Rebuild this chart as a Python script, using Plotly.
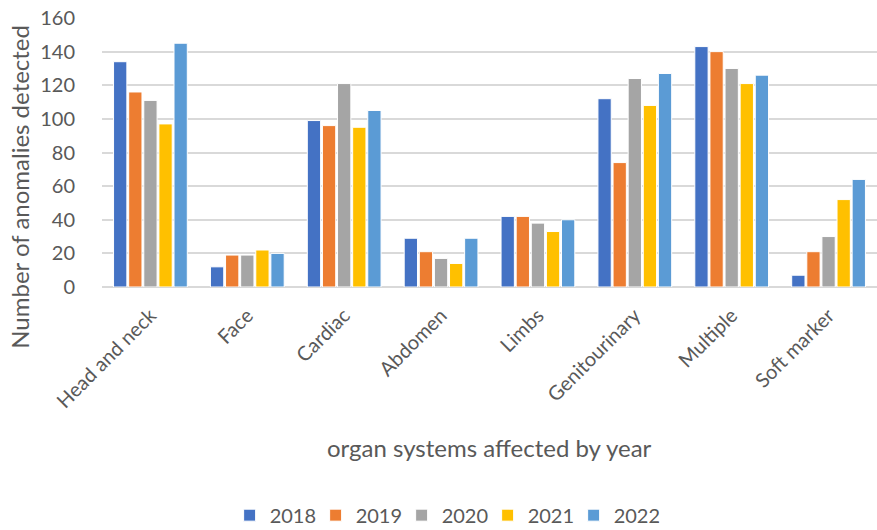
import plotly.graph_objects as go

categories = ["Head and neck", "Face", "Cardiac", "Abdomen", "Limbs", "Genitourinary", "Multiple", "Soft marker"]
years = ["2018", "2019", "2020", "2021", "2022"]
v2018 = [134, 12, 99, 29, 42, 112, 143, 7]
v2019 = [116, 19, 96, 21, 42, 74, 140, 21]
v2020 = [111, 19, 121, 17, 38, 124, 130, 30]
v2021 = [97, 22, 95, 14, 33, 108, 121, 52]
v2022 = [145, 20, 105, 29, 40, 127, 126, 64]
series = [v2018, v2019, v2020, v2021, v2022]
colors = ["#4472C4", "#ED7D31", "#A5A5A5", "#FFC000", "#5B9BD5"]

fig = go.Figure()
for y, vals, c in zip(years, series, colors):
    fig.add_trace(go.Bar(name=y, x=categories, y=vals, marker=dict(color=c, line=dict(color="white", width=1))))

font = "Lato, Noto Sans, sans-serif"
fig.update_layout(
    width=877, height=530,
    barmode="group", bargap=0.22, bargroupgap=0.12,
    plot_bgcolor="white", paper_bgcolor="white",
    margin=dict(l=102, r=0, t=18, b=243, autoexpand=False),
    font=dict(family=font, color="#595959", size=20),
    showlegend=True,
    legend=dict(orientation="h", xref="container", x=0.507, xanchor="center",
                yref="container", y=0.028, yanchor="middle",
                font=dict(size=20, color="#595959"), itemwidth=30, traceorder="normal",
                entrywidth=41, entrywidthmode="pixels"),
    annotations=[
        dict(text="organ systems affected by year", xref="paper", yref="paper",
             x=0.5, y=-0.595, xanchor="center", yanchor="middle", showarrow=False,
             font=dict(size=24, color="#595959")),
        dict(text="Number of anomalies detected", xref="paper", yref="paper",
             x=-0.106, y=0.372, xanchor="center", yanchor="middle", showarrow=False,
             textangle=-90, font=dict(size=24, color="#595959")),
    ],
)
fig.update_yaxes(range=[0, 160], dtick=20, showgrid=True, gridcolor="#D9D9D9", gridwidth=1.5,
                 zeroline=True, zerolinecolor="#D9D9D9", zerolinewidth=1.5, automargin=False,
                 ticks="outside", ticklen=12, tickcolor="rgba(0,0,0,0)", ticklabelstandoff=10,
                 tickfont=dict(size=20))
fig.update_xaxes(tickangle=-45, showline=False, tickfont=dict(size=20),
                 ticks="outside", ticklen=8, tickcolor="rgba(0,0,0,0)", automargin=False)

fig.write_html("out.html", config={"displayModeBar": False},
               post_script="document.body.style.margin='0';document.body.style.overflow='hidden';")
